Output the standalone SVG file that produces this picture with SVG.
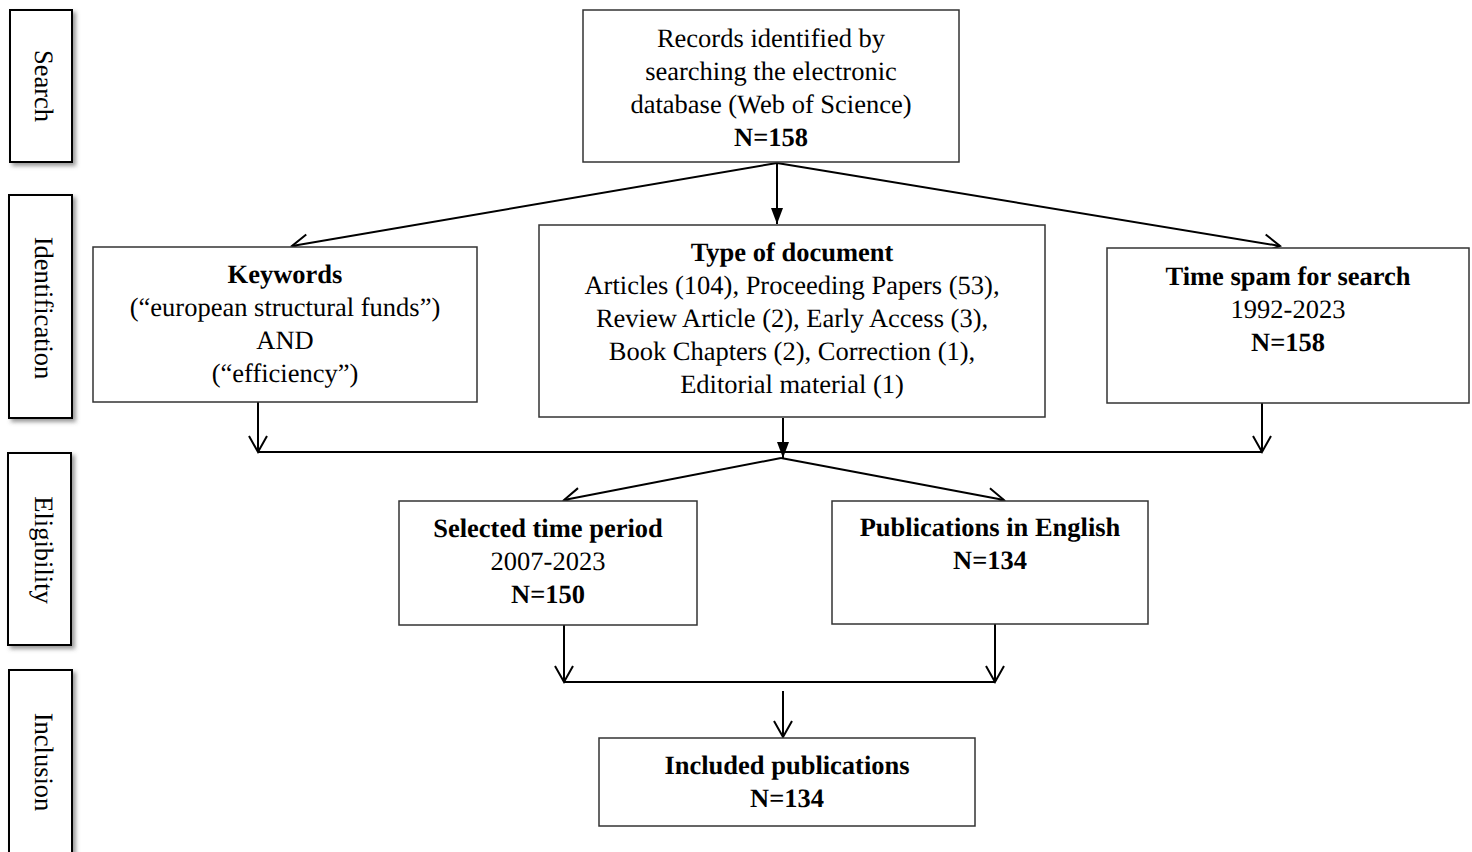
<svg xmlns="http://www.w3.org/2000/svg" width="1472" height="852" viewBox="0 0 1472 852">
<style>
text{font-family:"Liberation Serif","Times New Roman",serif;font-size:26.5px;fill:#000;text-anchor:middle;text-rendering:geometricPrecision}
.b{font-weight:bold}
.box{fill:#fff;stroke:#333;stroke-width:1.5}
.side{fill:#fff;stroke:#000;stroke-width:2;filter:url(#sh)}
.c{fill:none;stroke:#000;stroke-width:2}
.o{marker-end:url(#open)}
.f{marker-end:url(#fill)}
</style>
<defs>
<filter id="sh" x="-20%" y="-10%" width="150%" height="130%">
<feDropShadow dx="3" dy="3" stdDeviation="2" flood-color="#555" flood-opacity="0.6"/>
</filter>
<marker id="open" markerUnits="userSpaceOnUse" markerWidth="22" markerHeight="22" viewBox="-19 -11 22 22" refX="0" refY="0" orient="auto" overflow="visible">
<path d="M-16,-9 L0,0 L-16,9" fill="none" stroke="#000" stroke-width="2"/>
</marker>
<marker id="fill" markerUnits="userSpaceOnUse" markerWidth="22" markerHeight="22" viewBox="-19 -11 22 22" refX="0" refY="0" orient="auto" overflow="visible">
<path d="M-16,-6 L0,0 L-16,6 Z" fill="#000"/>
</marker>
</defs>
<rect width="1472" height="852" fill="#fff"/>

<g id="stage-search"><rect class="side" x="10" y="10" width="62" height="152"/><text transform="translate(35,86) rotate(90)">Search</text></g>
<g id="stage-identification"><rect class="side" x="9" y="195" width="63" height="223"/><text transform="translate(35,308) rotate(90)">Identification</text></g>
<g id="stage-eligibility"><rect class="side" x="8" y="453" width="63" height="192"/><text transform="translate(35,550) rotate(90)">Eligibility</text></g>
<g id="stage-inclusion"><rect class="side" x="9" y="670" width="63" height="200"/><text transform="translate(35,762) rotate(90)">Inclusion</text></g>

<g id="connectors">
<line class="c o" x1="777" y1="163" x2="292" y2="246"/>
<line class="c f" x1="777" y1="163" x2="777" y2="224"/>
<line class="c o" x1="777" y1="163" x2="1280" y2="246"/>
<line class="c o" x1="258" y1="402" x2="258" y2="452"/>
<line class="c f" x1="783" y1="418" x2="783" y2="458"/>
<line class="c o" x1="1262" y1="403" x2="1262" y2="452"/>
<line class="c" x1="258" y1="452" x2="1262" y2="452"/>
<line class="c o" x1="781" y1="458" x2="564" y2="500"/>
<line class="c o" x1="781" y1="458" x2="1004" y2="500"/>
<line class="c o" x1="564" y1="622" x2="564" y2="682"/>
<line class="c o" x1="995" y1="624" x2="995" y2="682"/>
<line class="c" x1="564" y1="682" x2="995" y2="682"/>
<line class="c o" x1="783" y1="691" x2="783" y2="737"/>
</g>

<g id="records"><rect class="box" x="583" y="10" width="376" height="152"/>
<text x="771" y="47">Records identified by</text>
<text x="771" y="80">searching the electronic</text>
<text x="771" y="113">database (Web of Science)</text>
<text class="b" x="771" y="146">N=158</text></g>

<g id="keywords"><rect class="box" x="93" y="247" width="384" height="155"/>
<text class="b" x="285" y="283">Keywords</text>
<text x="285" y="316">(“european structural funds”)</text>
<text x="285" y="349">AND</text>
<text x="285" y="382">(“efficiency”)</text></g>

<g id="type-of-document"><rect class="box" x="539" y="225" width="506" height="192"/>
<text class="b" x="792" y="261">Type of document</text>
<text x="792" y="294">Articles (104), Proceeding Papers (53),</text>
<text x="792" y="327">Review Article (2), Early Access (3),</text>
<text x="792" y="360">Book Chapters (2), Correction (1),</text>
<text x="792" y="393">Editorial material (1)</text></g>

<g id="time-span"><rect class="box" x="1107" y="248" width="362" height="155"/>
<text class="b" x="1288" y="285">Time spam for search</text>
<text x="1288" y="318">1992-2023</text>
<text class="b" x="1288" y="351">N=158</text></g>

<g id="selected-period"><rect class="box" x="399" y="501" width="298" height="124"/>
<text class="b" x="548" y="537">Selected time period</text>
<text x="548" y="570">2007-2023</text>
<text class="b" x="548" y="603">N=150</text></g>

<g id="english"><rect class="box" x="832" y="501" width="316" height="123"/>
<text class="b" x="990" y="536">Publications in English</text>
<text class="b" x="990" y="569">N=134</text></g>

<g id="included"><rect class="box" x="599" y="738" width="376" height="88"/>
<text class="b" x="787" y="774">Included publications</text>
<text class="b" x="787" y="807">N=134</text></g>
</svg>
